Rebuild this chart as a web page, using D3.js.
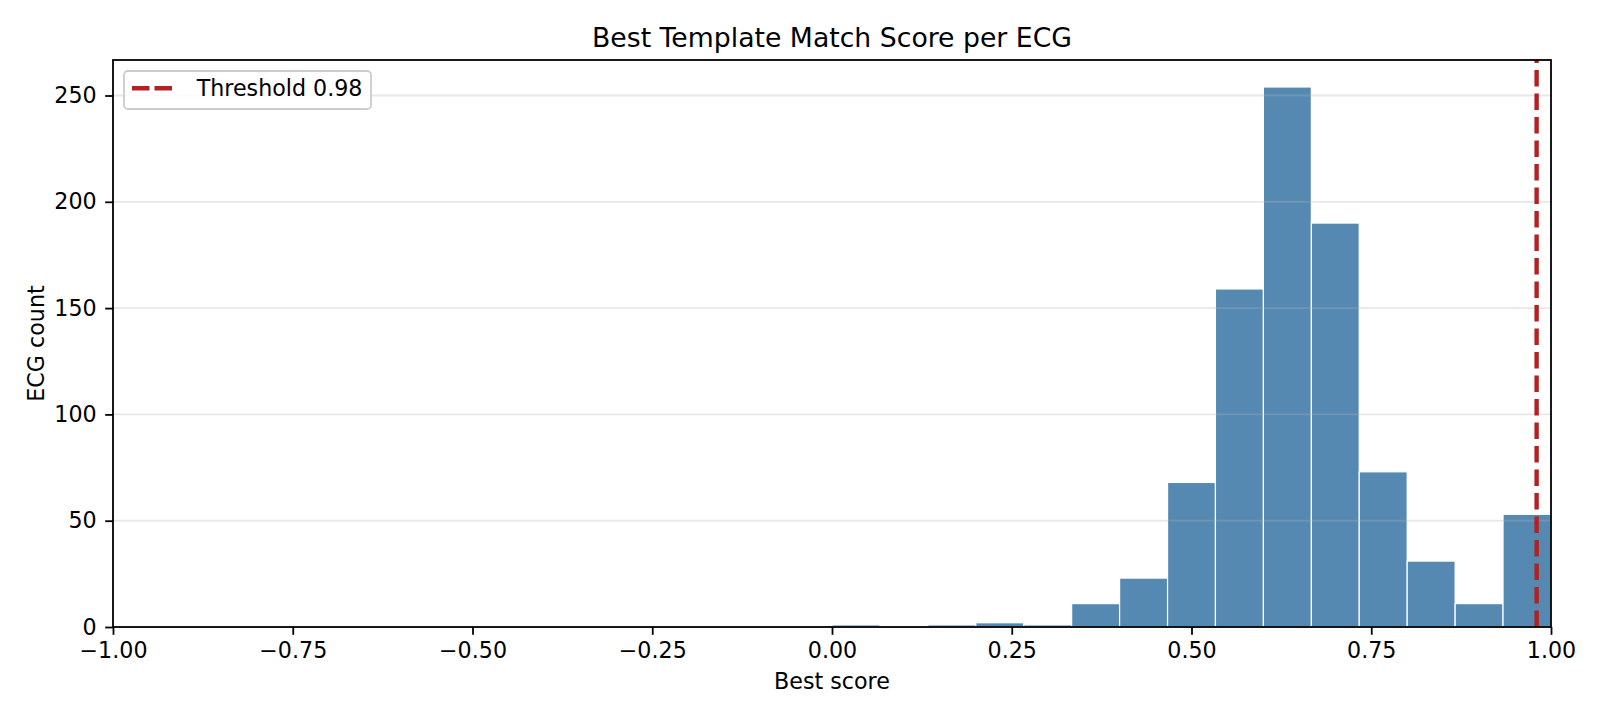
<!DOCTYPE html>
<html>
<head>
<meta charset="utf-8">
<script src="https://cdnjs.cloudflare.com/ajax/libs/d3/7.8.5/d3.min.js"></script>
<style>
    body { margin: 0; background: #fff; }
    svg text { font-family: "DejaVu Sans", sans-serif; fill: #000; }
</style>
</head>
<body>
<div id="chart"></div>
<script>

// bin lower edges (30 bins of 1/15 over [-1, 1])
var binStart = [-1.0000, -0.9333, -0.8667, -0.8000, -0.7333, -0.6667, -0.6000, -0.5333, -0.4667, -0.4000,
                -0.3333, -0.2667, -0.2000, -0.1333, -0.0667, 0.0000, 0.0667, 0.1333, 0.2000, 0.2667,
                0.3333, 0.4000, 0.4667, 0.5333, 0.6000, 0.6667, 0.7333, 0.8000, 0.8667, 0.9333];
var binEnd = [-0.9333, -0.8667, -0.8000, -0.7333, -0.6667, -0.6000, -0.5333, -0.4667, -0.4000, -0.3333,
              -0.2667, -0.2000, -0.1333, -0.0667, 0.0000, 0.0667, 0.1333, 0.2000, 0.2667, 0.3333,
              0.4000, 0.4667, 0.5333, 0.6000, 0.6667, 0.7333, 0.8000, 0.8667, 0.9333, 1.0000];
var counts = [0, 0, 0, 0, 0, 0, 0, 0, 0, 0,
              0, 0, 0, 0, 0, 1, 0, 1, 2, 1,
              11, 23, 68, 159, 254, 190, 73, 31, 11, 53];

var xTicks = [-1, -0.75, -0.5, -0.25, 0, 0.25, 0.5, 0.75, 1];
var yTicks = [0, 50, 100, 150, 200, 250];
var threshold = 0.98;

var chartTitle = "Best Template Match Score per ECG";
var xLabel = "Best score";
var yLabel = "ECG count";
var legendLabel = "Threshold 0.98";

var W = 1600, H = 720;
var margin = {top: 60, right: 49, bottom: 93, left: 113},
    width = W - margin.left - margin.right,
    height = H - margin.top - margin.bottom;

var fontSize = "22.2px";

var svg = d3.select("#chart").append("svg")
    .attr("width", W)
    .attr("height", H);

var g = svg.append("g")
    .attr("transform", "translate(" + margin.left + "," + margin.top + ")");

var x = d3.scaleLinear()
    .domain([-1, 1])
    .range([0, width]);

// matplotlib style 5% headroom
var y = d3.scaleLinear()
    .domain([0, d3.max(counts) * 1.05])
    .range([height, 0]);

var bins = counts.map(function(c, i) {
    return {x0: binStart[i], x1: binEnd[i], count: c};
});

// bars
g.selectAll(".bar")
    .data(bins.filter(function(d) { return d.count > 0; }))
    .enter()
    .append("rect")
    .attr("class", "bar")
    .attr("x", function(d) { return x(d.x0); })
    .attr("width", function(d) { return x(d.x1) - x(d.x0); })
    .attr("y", function(d) { return y(d.count); })
    .attr("height", function(d) { return y(0) - y(d.count); })
    .attr("fill", "#5589b2")
    .attr("stroke", "#ffffff")
    .attr("stroke-width", 1.2);

// horizontal grid (drawn over the bars, faint)
g.append("g")
    .selectAll("line")
    .data(yTicks)
    .enter()
    .append("line")
    .attr("x1", 0)
    .attr("x2", width)
    .attr("y1", function(d) { return y(d); })
    .attr("y2", function(d) { return y(d); })
    .attr("stroke", "#b0b0b0")
    .attr("stroke-opacity", 0.3)
    .attr("stroke-width", 1.8);

// threshold line, dashes start from the bottom like axvline
g.append("line")
    .attr("x1", x(threshold))
    .attr("x2", x(threshold))
    .attr("y1", height)
    .attr("y2", 0)
    .attr("stroke", "#b22222")
    .attr("stroke-width", 4.4)
    .attr("stroke-dasharray", "16.5,7");

// axes
var xAxis = d3.axisBottom(x)
    .tickValues(xTicks)
    .tickFormat(d3.format(".2f"))
    .tickSizeInner(7.8)
    .tickSizeOuter(0)
    .tickPadding(7.4);

var yAxis = d3.axisLeft(y)
    .tickValues(yTicks)
    .tickSizeInner(7.8)
    .tickSizeOuter(0)
    .tickPadding(8.5);

var gX = g.append("g")
    .attr("transform", "translate(0," + height + ")")
    .call(xAxis);

var gY = g.append("g")
    .call(yAxis);

[gX, gY].forEach(function(a) {
    a.selectAll(".domain").remove();
    a.selectAll(".tick line").attr("stroke", "#000").attr("stroke-width", 1.8);
    a.selectAll(".tick text").style("font-size", fontSize);
});

// spines
g.append("rect")
    .attr("x", 0)
    .attr("y", 0)
    .attr("width", width)
    .attr("height", height)
    .attr("fill", "none")
    .attr("stroke", "#000")
    .attr("stroke-width", 1.8);

// labels
svg.append("text")
    .attr("x", margin.left + width / 2)
    .attr("y", 47.3)
    .attr("text-anchor", "middle")
    .style("font-size", "26.7px")
    .text(chartTitle);

svg.append("text")
    .attr("x", margin.left + width / 2)
    .attr("y", 689)
    .attr("text-anchor", "middle")
    .style("font-size", fontSize)
    .text(xLabel);

svg.append("text")
    .attr("transform", "translate(44," + (margin.top + height / 2) + ") rotate(-90)")
    .attr("text-anchor", "middle")
    .style("font-size", fontSize)
    .text(yLabel);

// legend
var legend = svg.append("g")
    .attr("transform", "translate(124,71)");

legend.append("rect")
    .attr("width", 247)
    .attr("height", 38)
    .attr("rx", 4)
    .attr("fill", "#fff")
    .attr("fill-opacity", 0.8)
    .attr("stroke", "#cccccc")
    .attr("stroke-width", 1.8);

legend.append("line")
    .attr("x1", 8)
    .attr("x2", 49)
    .attr("y1", 17.3)
    .attr("y2", 17.3)
    .attr("stroke", "#b22222")
    .attr("stroke-width", 4.4)
    .attr("stroke-dasharray", "17.5,5");

legend.append("text")
    .attr("x", 72.7)
    .attr("y", 24.7)
    .style("font-size", fontSize)
    .text(legendLabel);

</script>
</body>
</html>
